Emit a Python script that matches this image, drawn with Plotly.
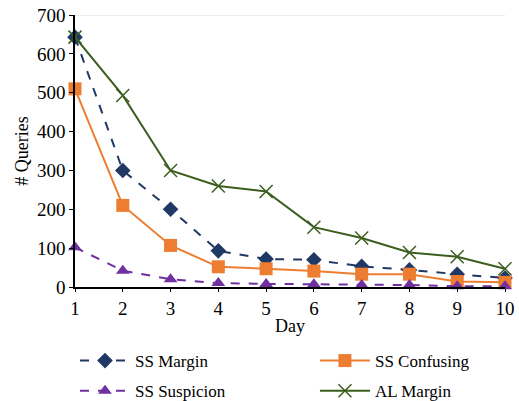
import plotly.graph_objects as go

days = [1, 2, 3, 4, 5, 6, 7, 8, 9, 10]
ss_margin = [643, 300, 200, 93, 72, 70, 53, 44, 33, 23]
ss_confusing = [510, 210, 107, 52, 47, 41, 33, 33, 14, 12]
ss_suspicion = [102, 42, 20, 10, 8, 7, 5, 5, 2, 2]
al_margin = [643, 493, 300, 260, 246, 154, 126, 89, 78, 47]

fig = go.Figure()
fig.add_trace(go.Scatter(x=days, y=ss_margin, name="SS Margin", mode="lines+markers",
                         line=dict(color="#1F3864", width=2, dash="dash"),
                         marker=dict(symbol="diamond", size=12, color="#1F3864"),
                         legend="legend", legendgroup="a"))
fig.add_trace(go.Scatter(x=days, y=ss_confusing, name="SS Confusing", mode="lines+markers",
                         line=dict(color="#ED7D31", width=2),
                         marker=dict(symbol="square", size=13, color="#ED7D31"),
                         legend="legend2", legendgroup="b"))
fig.add_trace(go.Scatter(x=days, y=ss_suspicion, name="SS Suspicion", mode="lines+markers",
                         line=dict(color="#7030A0", width=2, dash="dash"),
                         marker=dict(symbol="triangle-up", size=12, color="#7030A0"),
                         legend="legend", legendgroup="c"))
fig.add_trace(go.Scatter(x=days, y=al_margin, name="AL Margin", mode="lines+markers",
                         line=dict(color="#3B5E1E", width=2),
                         marker=dict(symbol="x-thin-open", size=13,
                                     line=dict(color="#3B5E1E", width=1.5)),
                         legend="legend2", legendgroup="d"))
fig.update_traces(cliponaxis=False)

font = "Liberation Serif"
leg_common = dict(orientation="v", xanchor="left", y=-0.206, yanchor="top",
                  font=dict(family=font, size=17, color="black"),
                  traceorder="grouped", itemwidth=50, tracegroupgap=5,
                  bgcolor="rgba(0,0,0,0)")
fig.update_layout(
    width=519, height=401,
    margin=dict(l=75, r=14, t=15, b=114, autoexpand=False),
    plot_bgcolor="white", paper_bgcolor="white",
    font=dict(family=font, size=19, color="black"),
    showlegend=True,
    legend=dict(x=0.0, **leg_common),
    legend2=dict(x=0.558, **leg_common),
    xaxis=dict(range=[1, 10], tickvals=days, showline=True, linecolor="black",
               linewidth=1.5, ticks="outside", ticklen=3, tickcolor="black",
               tickfont=dict(family=font, size=19, color="black"),
               showgrid=False, zeroline=False,
               title=dict(text="Day", font=dict(family=font, size=18), standoff=2)),
    yaxis=dict(range=[0, 700], tickvals=[0, 100, 200, 300, 400, 500, 600, 700],
               showline=True, linecolor="black", linewidth=1.5, ticks="outside",
               ticklen=4, tickcolor="black",
               tickfont=dict(family=font, size=19, color="black"),
               showgrid=False, zeroline=False,
               title=dict(text="# Queries", font=dict(family=font, size=18), standoff=4)),
    shapes=[dict(type="line", xref="paper", yref="y", x0=0, x1=1, y0=700, y1=700,
                 line=dict(color="#D9D9D9", width=1), layer="below")],
)
fig.write_html("out.html")
